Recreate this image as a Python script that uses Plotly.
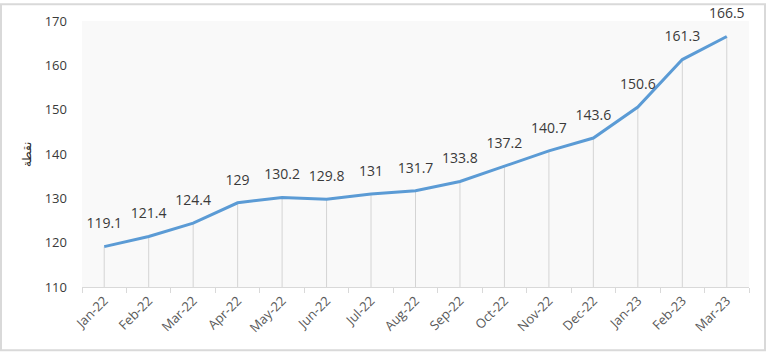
import plotly.graph_objects as go

months = ["Jan-22", "Feb-22", "Mar-22", "Apr-22", "May-22", "Jun-22", "Jul-22", "Aug-22",
          "Sep-22", "Oct-22", "Nov-22", "Dec-22", "Jan-23", "Feb-23", "Mar-23"]
values = [119.1, 121.4, 124.4, 129, 130.2, 129.8, 131, 131.7, 133.8, 137.2, 140.7, 143.6,
          150.6, 161.3, 166.5]
labels = ["119.1", "121.4", "124.4", "129", "130.2", "129.8", "131", "131.7", "133.8",
          "137.2", "140.7", "143.6", "150.6", "161.3", "166.5"]
y_min, y_max = 110, 170

W, H = 768, 354
ml, mr, mt, mb = 82, 19, 18, 67
pw, ph = W - ml - mr, H - mt - mb

fig = go.Figure()
fig.add_trace(go.Scatter(
    x=months, y=values, mode="lines+markers+text", text=labels, textposition="top center",
    textfont=dict(family="Open Sans", size=14, color="#3a3a3a"),
    line=dict(color="#5B9BD5", width=3),
    marker=dict(size=22, color="rgba(0,0,0,0)"),
    error_y=dict(type="data", symmetric=False, array=[0] * len(values),
                 arrayminus=[v - y_min for v in values], color="#d4d4d4",
                 thickness=1, width=0),
    hoverinfo="x+y", cliponaxis=False,
))

fig.update_layout(
    width=W, height=H, margin=dict(l=ml, r=mr, t=mt, b=mb),
    paper_bgcolor="white", plot_bgcolor="#f9f9f9", showlegend=False,
    font=dict(family="Open Sans", color="#595959"),
    xaxis=dict(type="category", tickangle=-45, tickson="boundaries", ticks="outside",
               ticklen=5, tickcolor="#d9d9d9", showline=True, linecolor="#d9d9d9",
               showgrid=False, tickfont=dict(size=13, color="#595959"),
               range=[-0.5, len(months) - 0.5]),
    yaxis=dict(range=[y_min, y_max], dtick=10, showgrid=False, zeroline=False,
               showline=False, tickfont=dict(size=13, color="#3a3a3a"),
               ticks="", ticklabelstandoff=14,
               title=dict(text="نقطة", font=dict(size=12, color="#262626"), standoff=10)),
    shapes=[dict(type="rect", xref="paper", yref="paper",
                 x0=-(ml - 1) / pw, x1=1 + (mr - 3) / pw,
                 y0=-(mb - 3) / ph, y1=1 + (mt - 1) / ph,
                 line=dict(color="#d9d9d9", width=2), layer="below")],
)

fig.write_html("out.html")
